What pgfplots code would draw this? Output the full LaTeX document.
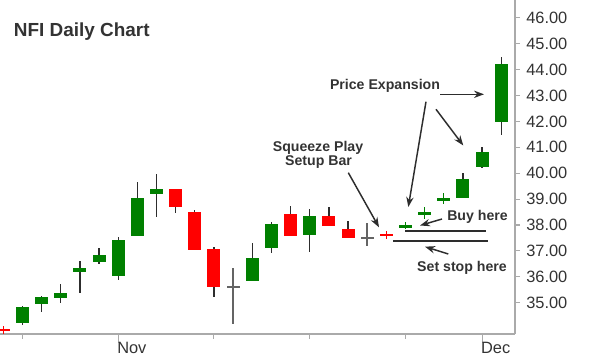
\documentclass[border=0pt]{standalone}
\usepackage{pgfplots}
\pgfplotsset{compat=1.18}
\usepackage{pgfplotstable}
\usepackage{fontspec}
\setmainfont{Liberation Sans}
\usetikzlibrary{arrows.meta}
\definecolor{cgreen}{RGB}{0,128,0}
\definecolor{cred}{RGB}{255,0,0}
\definecolor{txt}{RGB}{51,51,51}
\definecolor{wick}{RGB}{45,45,45}
\definecolor{dojigray}{RGB}{100,100,100}
\definecolor{axgray}{RGB}{170,170,170}

% x open close high low
\pgfplotstableread{
x o c h l
1 34.22 34.83 34.87 34.15
2 34.95 35.22 35.25 34.65
3 35.19 35.36 35.71 35.00
4 36.17 36.33 36.61 35.36
5 36.58 36.84 37.12 36.48
6 36.04 37.42 37.55 35.88
7 37.58 39.03 39.67 37.58
8 39.20 39.39 39.96 38.32
13 35.84 36.71 37.32 35.84
14 37.10 38.04 38.12 36.91
16 37.61 38.35 38.61 36.95
24 39.05 39.76 40.00 39.05
25 40.23 40.83 41.00 40.19
26 41.97 44.20 44.50 41.47
}\greendata

\pgfplotstableread{
x o c h l
9 39.39 38.71 39.39 38.45
10 38.50 37.03 38.58 37.03
11 37.06 35.60 37.14 35.21
15 38.44 37.59 38.73 37.59
17 38.35 37.96 38.71 37.96
18 37.85 37.51 38.17 37.51
}\reddata

\pgfplotstableread{
x o c h l
12 35.63 35.57 36.35 34.18
19 37.52 37.46 38.09 37.20
}\dojidata

\pgfplotstableread{
x o c h l
0 33.98 33.92 34.10 33.79
20 37.64 37.58 37.77 37.46
}\redcross

\pgfplotstableread{
x o c h l
21 37.90 38.00 38.13 37.83
22 38.39 38.51 38.68 38.25
23 38.94 39.03 39.22 38.80
}\greencross

\begin{document}
\begin{tikzpicture}
\begin{axis}[
  at={(0pt,0pt)}, anchor=south west,
  scale only axis,
  width=386.25pt, height=250.5pt,
  xmin=-0.172, xmax=26.72,
  ymin=33.79, ymax=46.69,
  axis x line=bottom, axis y line=right,
  axis line style={-, draw=axgray, line width=0.8pt},
  tick align=outside,
  tick style={draw=axgray, line width=0.8pt},
  major tick length=3.75pt, minor tick length=3.75pt,
  xtick={6,25}, xticklabels={Nov,Dec},
  minor xtick={1,11,16,21},
  xtick style={/pgfplots/major tick length=6.75pt},
  ytick={35,36,...,46},
  ticklabel style={font=\fontsize{12.3}{14}\selectfont, text=txt},
  xticklabel style={anchor=north west, inner sep=0pt, xshift=-0.9pt, yshift=-2.1pt},
  yticklabel style={anchor=west, inner sep=0pt, xshift=4.5pt,
    /pgf/number format/fixed, /pgf/number format/fixed zerofill,
    /pgf/number format/precision=2, /pgf/number format/assume math mode=true},
  clip=true,
]
% wicks
\addplot[draw=none, mark=none, forget plot, error bars/.cd, y dir=both, y explicit, error mark=none,
  error bar style={line width=1pt, draw=wick}]
  table[x=x, y expr={(\thisrow{h}+\thisrow{l})/2}, y error expr={(\thisrow{h}-\thisrow{l})/2}] {\greendata};
\addplot[draw=none, mark=none, forget plot, error bars/.cd, y dir=both, y explicit, error mark=none,
  error bar style={line width=1pt, draw=wick}]
  table[x=x, y expr={(\thisrow{h}+\thisrow{l})/2}, y error expr={(\thisrow{h}-\thisrow{l})/2}] {\reddata};
\addplot[draw=none, mark=none, forget plot, error bars/.cd, y dir=both, y explicit, error mark=none,
  error bar style={line width=1pt, draw=dojigray}]
  table[x=x, y expr={(\thisrow{h}+\thisrow{l})/2}, y error expr={(\thisrow{h}-\thisrow{l})/2}] {\dojidata};
\addplot[draw=none, mark=none, forget plot, error bars/.cd, y dir=both, y explicit, error mark=none,
  error bar style={line width=1pt, draw=cred}]
  table[x=x, y expr={(\thisrow{h}+\thisrow{l})/2}, y error expr={(\thisrow{h}-\thisrow{l})/2}] {\redcross};
\addplot[draw=none, mark=none, forget plot, error bars/.cd, y dir=both, y explicit, error mark=none,
  error bar style={line width=1pt, draw=cgreen}]
  table[x=x, y expr={(\thisrow{h}+\thisrow{l})/2}, y error expr={(\thisrow{h}-\thisrow{l})/2}] {\greencross};
% bodies
\addplot[draw=none, mark=none, forget plot, error bars/.cd, y dir=both, y explicit, error mark=none,
  error bar style={line width=9.75pt, draw=cgreen}]
  table[x=x, y expr={(\thisrow{o}+\thisrow{c})/2}, y error expr={abs(\thisrow{c}-\thisrow{o})/2}] {\greendata};
\addplot[draw=none, mark=none, forget plot, error bars/.cd, y dir=both, y explicit, error mark=none,
  error bar style={line width=9.75pt, draw=cred}]
  table[x=x, y expr={(\thisrow{o}+\thisrow{c})/2}, y error expr={abs(\thisrow{c}-\thisrow{o})/2}] {\reddata};
\addplot[draw=none, mark=none, forget plot, error bars/.cd, y dir=both, y explicit, error mark=none,
  error bar style={line width=9.75pt, draw=dojigray}]
  table[x=x, y expr={(\thisrow{o}+\thisrow{c})/2}, y error expr={abs(\thisrow{c}-\thisrow{o})/2}] {\dojidata};
\addplot[draw=none, mark=none, forget plot, error bars/.cd, y dir=both, y explicit, error mark=none,
  error bar style={line width=9.75pt, draw=cred}]
  table[x=x, y expr={(\thisrow{o}+\thisrow{c})/2}, y error expr={abs(\thisrow{c}-\thisrow{o})/2}] {\redcross};
\addplot[draw=none, mark=none, forget plot, error bars/.cd, y dir=both, y explicit, error mark=none,
  error bar style={line width=9.75pt, draw=cgreen}]
  table[x=x, y expr={(\thisrow{o}+\thisrow{c})/2}, y error expr={abs(\thisrow{c}-\thisrow{o})/2}] {\greencross};
\end{axis}

\begin{scope}[x=0.75pt, y=-0.75pt, shift={(0pt,250.5pt)}]
  \node[anchor=base west, inner sep=0pt, text=txt, font=\bfseries\fontsize{14.2}{17}\selectfont] at (13.6,37) {NFI Daily Chart};
  \tikzset{ann/.style={inner sep=0pt, text=txt, font=\bfseries\fontsize{10.6}{12}\selectfont},
           arr/.style={draw=wick, line width=1.1pt, -{Stealth[length=7.5pt,width=5.5pt]}}}
  \node[ann, anchor=base] at (318,151.5) {Squeeze Play};
  \node[ann, anchor=base] at (318.5,166) {Setup Bar};
  \node[ann, anchor=base] at (385,90) {Price Expansion};
  \node[ann, anchor=base west] at (447,221) {Buy here};
  \node[ann, anchor=base] at (462,272) {Set stop here};
  % lines
  \draw[draw=wick, line width=1pt] (405,231) -- (486,231);
  \draw[draw=wick, line width=1.5pt] (393,241) -- (488,241);
  % arrows
  \draw[arr] (440,94.3) -- (484,94.3);
  \draw[arr] (436,109.3) -- (463.3,145.5);
  \draw[arr] (426,101.7) -- (408.3,207);
  \draw[arr] (348.3,172.7) -- (379,227.3);
  \draw[arr] (442,219) -- (420,225.5);
  \draw[arr] (448.3,254) -- (425,246.7);
\end{scope}

\pgfresetboundingbox
\path[use as bounding box] (0pt,-17.25pt) rectangle (450pt,250.5pt);
\end{tikzpicture}
\end{document}
